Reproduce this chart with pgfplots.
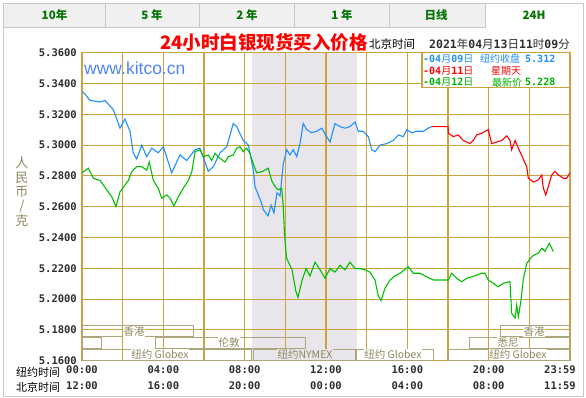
\documentclass[border=0pt]{standalone}
\usepackage{pgfplots}
\pgfplotsset{compat=1.18}
\usepackage{fontspec}
\setmainfont{DejaVu Sans}
\newfontfamily\cjk{Noto Sans CJK SC}
\newfontfamily\mono{DejaVu Sans Mono}
\newfontfamily\arial{Liberation Sans}
\definecolor{gold}{RGB}{202,162,62}
\definecolor{shade}{RGB}{232,230,235}
\definecolor{bl}{RGB}{30,144,255}
\definecolor{gr}{RGB}{0,190,0}
\definecolor{rd}{RGB}{255,0,0}
\definecolor{olive}{RGB}{140,136,95}
\definecolor{tabg}{RGB}{240,240,240}
\definecolor{tabb}{RGB}{200,200,200}
\definecolor{tabt}{RGB}{0,115,0}
\definecolor{boxc}{RGB}{175,165,125}
\definecolor{dk}{RGB}{45,45,45}
\definecolor{kit}{RGB}{80,130,255}
\definecolor{lgr}{RGB}{0,175,0}

\pgfplotstableread{
x y
0.00 5.335
0.15 5.333
0.39 5.329
0.89 5.328
1.13 5.329
1.54 5.323
1.87 5.311
2.11 5.317
2.36 5.309
2.52 5.295
2.69 5.291
2.94 5.300
3.18 5.2925
3.43 5.298
3.75 5.295
4.00 5.299
4.41 5.282
4.82 5.2936
5.15 5.290
5.56 5.297
5.80 5.298
6.21 5.283
6.46 5.286
6.79 5.295
7.12 5.299
7.44 5.314
7.61 5.312
7.93 5.303
8.18 5.300
8.42 5.284
8.51 5.273
8.84 5.262
8.92 5.258
9.15 5.254
9.30 5.261
9.44 5.256
9.59 5.269
9.74 5.267
9.90 5.288
10.07 5.297
10.23 5.2936
10.39 5.297
10.56 5.2925
10.72 5.301
10.88 5.314
11.05 5.310
11.30 5.308
11.54 5.309
11.79 5.311
12.03 5.3055
12.20 5.302
12.44 5.314
12.69 5.312
12.93 5.311
13.18 5.312
13.43 5.315
13.59 5.309
13.83 5.309
14.08 5.3055
14.25 5.297
14.41 5.2957
14.66 5.300
14.99 5.301
15.31 5.303
15.56 5.3066
15.80 5.3055
15.97 5.310
16.22 5.308
16.46 5.309
16.79 5.309
17.03 5.311
17.20 5.312
}\blue

\pgfplotstableread{
x y
17.20 5.312
18.00 5.312
18.02 5.3077
18.26 5.3055
18.51 5.3066
18.75 5.303
18.92 5.302
19.08 5.301
19.24 5.303
19.41 5.3066
19.66 5.3077
19.82 5.309
19.98 5.310
20.15 5.301
20.40 5.302
20.64 5.303
20.89 5.306
21.05 5.303
21.13 5.297
21.30 5.303
21.46 5.298
21.70 5.291
21.87 5.286
21.95 5.2785
22.20 5.276
22.44 5.2774
22.61 5.2806
22.69 5.272
22.81 5.2676
22.93 5.273
23.10 5.2806
23.26 5.283
23.43 5.2806
23.67 5.2785
23.84 5.2785
24.00 5.282
}\red

\pgfplotstableread{
x y
0.00 5.282
0.31 5.285
0.56 5.2785
0.89 5.277
1.21 5.271
1.46 5.2665
1.67 5.260
1.87 5.2697
2.11 5.274
2.28 5.277
2.44 5.2827
2.69 5.286
2.94 5.286
3.18 5.2838
3.31 5.289
3.51 5.277
3.75 5.272
3.92 5.2655
4.17 5.2676
4.33 5.2655
4.52 5.2605
4.74 5.2665
4.98 5.272
5.23 5.277
5.40 5.2827
5.56 5.2957
5.80 5.297
5.97 5.2925
6.21 5.2936
6.38 5.290
6.54 5.2946
6.79 5.2914
7.03 5.289
7.20 5.2925
7.44 5.2936
7.61 5.298
7.77 5.299
7.93 5.2957
8.10 5.298
8.26 5.2946
8.42 5.288
8.59 5.282
8.84 5.2827
9.00 5.2838
9.16 5.285
9.33 5.277
9.49 5.273
9.65 5.271
9.82 5.272
9.90 5.260
9.96 5.242
10.06 5.2266
10.33 5.219
10.52 5.205
10.62 5.201
10.82 5.212
11.02 5.2198
11.21 5.215
11.46 5.224
11.71 5.219
11.95 5.2136
12.20 5.2198
12.44 5.2175
12.69 5.222
12.93 5.219
13.18 5.224
13.43 5.2198
13.67 5.2198
13.92 5.219
14.16 5.2175
14.41 5.2124
14.56 5.2026
14.71 5.199
14.90 5.207
15.15 5.2124
15.39 5.215
15.64 5.2168
16.05 5.221
16.29 5.2168
16.62 5.2168
16.95 5.2145
17.28 5.2124
18.02 5.2124
18.18 5.2168
18.43 5.2135
18.67 5.2113
18.92 5.2135
19.17 5.2145
19.41 5.2156
19.66 5.2168
19.82 5.2168
19.98 5.2124
20.23 5.2103
20.47 5.208
20.72 5.2103
21.05 5.2113
21.13 5.1908
21.30 5.1877
21.38 5.196
21.46 5.1886
21.54 5.195
21.59 5.1994
21.70 5.2124
21.87 5.2232
22.12 5.2275
22.28 5.229
22.44 5.2297
22.61 5.233
22.77 5.231
22.98 5.2362
23.18 5.2308
}\green

\begin{document}
\begin{tikzpicture}[x=1pt,y=1pt]
\path (0,0) rectangle (586,397);

\begin{scope}[yshift=397pt,yscale=-1]
  % panel
  \draw[tabb, line width=0.8pt] (3.5,27) -- (3.5,396) -- (583.5,396) -- (583.5,27);
  % tabs
  \foreach \a/\b in {3.5/105,105/199,199/294,294/389,389/485}
    \draw[tabb, fill=tabg, line width=0.8pt] (\a,3) rectangle (\b,27);
  \draw[tabb, line width=0.8pt] (485,27) -- (485,3) -- (583.5,3) -- (583.5,27);
  \foreach \c/\t in {54.5/{10年},152/{5 年},247/{2 年},342/{1 年},436/{日线},534/{24H}}
    \node[text=tabt, font=\cjk\bfseries\fontsize{11.5}{11.5}\selectfont] at (\c,15) {\t};
  % title
  \node[anchor=west, text=rd, inner sep=0pt, font=\cjk\bfseries\fontsize{18.5}{18.5}\selectfont] at (160,42.3) {24小时白银现货买入价格};
  \node[anchor=west, text=black, inner sep=0pt, font=\cjk\fontsize{11.5}{11.5}\selectfont] at (369,44) {北京时间};
  \node[anchor=west, text=dk, inner sep=0pt, font=\fontsize{11.5}{11.5}\selectfont] at (429,44)
    {{\mono\bfseries 2021}{\cjk 年}{\mono\bfseries 04}{\cjk 月}{\mono\bfseries 13}{\cjk 日}{\mono\bfseries 11}{\cjk 时}{\mono\bfseries 09}{\cjk 分}};
  % y label
  \foreach \yy/\t in {163/人,178/民,192/币,207/{/},221/克}
    \node[text=olive, font=\cjk\fontsize{13}{13}\selectfont] at (22,\yy) {\t};
  % bottom labels
  \node[anchor=west, text=black, inner sep=0pt, font=\cjk\fontsize{11}{11}\selectfont] at (16,372) {纽约时间};
  \node[anchor=west, text=black, inner sep=0pt, font=\cjk\fontsize{11}{11}\selectfont] at (16,387.5) {北京时间};
\end{scope}

\begin{axis}[
  at={(82pt,36.3pt)}, anchor=south west,
  scale only axis, width=488pt, height=308pt,
  xmin=0, xmax=24, ymin=5.16, ymax=5.36,
  set layers,
  axis line style={gold, line width=1.2pt},
  grid=major, major grid style={gold, line width=1.1pt},
  tick style={draw=none},
  xtick={0,2,4,6,8,10,12,14,16,18,20,22,24},
  xticklabels={{00:00\\12:00},{},{04:00\\16:00},{},{08:00\\20:00},{},{12:00\\00:00},{},{16:00\\04:00},{},{20:00\\08:00},{},{}},
  extra x ticks={24},
  extra x tick labels={{23:59\\11:59}},
  extra x tick style={grid=none, xticklabel style={xshift=-10pt}},
  xticklabel style={align=center, font=\mono\bfseries\fontsize{10.5}{16}\selectfont, text=dk, inner sep=0pt, anchor=north, yshift=-5pt},
  ytick={5.16,5.18,5.20,5.22,5.24,5.26,5.28,5.30,5.32,5.34,5.36},
  yticklabels={5.1600,5.1800,5.2000,5.2200,5.2400,5.2600,5.2800,5.3000,5.3200,5.3400,5.3600},
  yticklabel style={font=\mono\bfseries\fontsize{10.5}{10.5}\selectfont, text=dk, inner sep=0pt, anchor=east, xshift=-5pt},
]
\addplot[on layer=axis background, fill=shade, draw=none] coordinates {(8.37,5.16) (8.37,5.36) (13.52,5.36) (13.52,5.16)} -- cycle;
\addplot[bl, line width=1.1pt] table[x=x,y=y] {\blue};
\addplot[gr, line width=1.1pt] table[x=x,y=y] {\green};
\addplot[rd, line width=1.1pt] table[x=x,y=y] {\red};
\end{axis}

\begin{scope}[yshift=397pt,yscale=-1]
  \node[anchor=west, text=kit, inner sep=0pt, font=\arial\fontsize{17.5}{17.5}\selectfont] at (84,68.3) {www.kitco.cn};
  % session boxes
  \begin{scope}[boxc, line width=0.8pt]
    \draw (82,325.7) rectangle (193,336);
    \draw (500,325.7) rectangle (570,336);
    \draw (82,337.5) rectangle (101.7,348.3);
    \draw (155.7,337.5) rectangle (305,348.3);
    \draw (469.3,337.5) rectangle (570,348.3);
    \draw (82,349.3) rectangle (251.7,360.7);
    \draw (253.3,349.3) rectangle (355,360.7);
    \draw (356.7,349.3) rectangle (433.3,360.7);
    \draw (448.3,349.3) rectangle (570,360.7);
  \end{scope}
  \begin{scope}[every node/.style={text=olive, inner sep=0.8pt, font=\cjk\fontsize{10.5}{10.5}\selectfont}]
    \node[fill=white] at (134,331.3) {香港};
    \node[fill=white] at (534,331.3) {香港};
    \node[fill=white] at (229,342.7) {伦敦};
    \node[fill=white] at (508,342.7) {悉尼};
    \node[fill=white] at (160,354.3) {纽约 Globex};
    \node[fill=shade] at (305,354.3) {纽约NYMEX};
    \node[fill=white] at (393,354.3) {纽约 Globex};
    \node[fill=white] at (518,354.3) {纽约 Globex};
  \end{scope}
  % legend box
  \draw[gold, fill=white, line width=1.2pt] (422,52.7) rectangle (570,87.7);
  \begin{scope}[every node/.style={anchor=west, inner sep=0pt, font=\fontsize{10}{10}\selectfont}]
    \node[text=bl] at (423,58.5) {{\mono\bfseries -04}{\cjk 月}{\mono\bfseries 09}{\cjk 日}};
    \node[text=bl] at (480,58.5) {\cjk 纽约收盘};
    \node[text=bl] at (525,58.5) {\mono\bfseries 5.312};
    \node[text=rd] at (423,70.7) {{\mono\bfseries -04}{\cjk 月}{\mono\bfseries 11}{\cjk 日}};
    \node[text=rd] at (491,70.7) {\cjk 星期天};
    \node[text=lgr] at (423,82.3) {{\mono\bfseries -04}{\cjk 月}{\mono\bfseries 12}{\cjk 日}};
    \node[text=lgr] at (492,82.3) {\cjk 最新价};
    \node[text=lgr] at (525,82.3) {\mono\bfseries 5.228};
  \end{scope}
\end{scope}
\end{tikzpicture}
\end{document}
